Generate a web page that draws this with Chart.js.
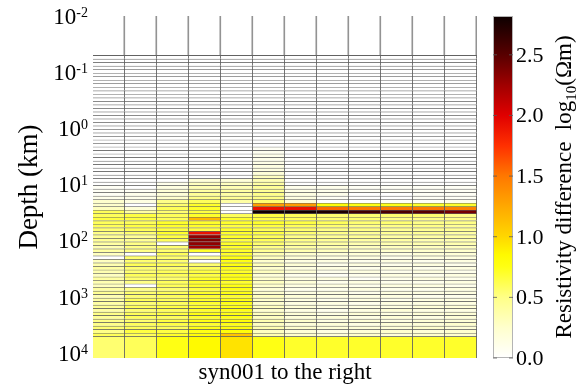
<!DOCTYPE html>
<html><head><meta charset="utf-8">
<script src="https://cdn.jsdelivr.net/npm/chart.js@4.4.1/dist/chart.umd.min.js"></script>
<style>html,body{margin:0;padding:0;background:#fff;overflow:hidden}#wrap{width:581px;height:389px;position:relative}</style>
</head><body><div id="wrap"><canvas id="c" width="581" height="389"></canvas></div>
<script>
// ---- data ----
const columns = ['1','2','3','4','5','6','7','8','9','10','11','12'];
const airTopKm = 0.01;
// layer boundaries, log10(depth km); last entry = bottom of half-space
const layerEdgesLog10 = [
-1.300,-1.238,-1.175,-1.113,-1.050,-0.988,-0.925,-0.863,-0.800,-0.738,
-0.675,-0.613,-0.550,-0.488,-0.425,-0.363,-0.300,-0.238,-0.175,-0.113,
-0.050,0.013,0.075,0.138,0.200,0.263,0.325,0.388,0.450,0.513,
0.575,0.638,0.700,0.763,0.825,0.888,0.950,1.013,1.075,1.138,
1.200,1.263,1.325,1.388,1.450,1.513,1.575,1.638,1.700,1.763,
1.825,1.888,1.950,2.013,2.075,2.138,2.200,2.263,2.325,2.388,
2.450,2.513,2.575,2.638,2.700,2.763,2.825,2.888,2.950,3.013,
3.075,3.138,3.200,3.263,3.325,3.388,3.450,3.513,3.575,3.638,
3.700,4.085];
const yTickExponents = [-2,-1,0,1,2,3,4];
const colorbarTicks = [0.0,0.5,1.0,1.5,2.0,2.5];
const colorbarMax = 2.82;

const col01 = [0,0,0,0,0,0,0,0,0,0, 0,0,0,0,0,0,0,0,0,0, 0,0,0,0,0,0,0,0,0,0,
0,0,0,0,0,0,0,0.05,0.05,0.05, 0.1,0.25,0.25,0.3,0.6,0.6,0.65,0.6,0.6,0.55,
0.5,0.45,0.45,0.4,0.35,0.4,0.3,0,0.3,0.35, 0.4,0.35,0.3,0.4,0.35,0.3,0.4,0.45,0.35,0.4,
0.4,0.45,0.4,0.5,0.45,0.5,0.5,0.55,0.5,0.6, 0.55];
const col02 = [0,0,0,0,0,0,0,0,0,0, 0,0,0,0,0,0,0,0,0,0, 0,0,0,0,0,0,0,0,0,0,
0,0,0,0,0,0,0,0,0.05,0.1, 0.1,0.15,0,0.2,0.4,0.65,0.65,0.6,0.65,0.6,
0.55,0.45,0.45,0.5,0.5,0.5,0,0.55,0.55,0.6, 0.55,0.55,0.6,0.55,0.5,0,0.5,0.55,0.55,0.6,
0.55,0.6,0.55,0.6,0.6,0.55,0.6,0.6,0.65,0.6, 0.6];
const col03 = [0,0,0,0,0,0,0,0,0,0, 0,0,0,0,0,0,0,0,0,0, 0,0,0,0,0,0,0,0,0,0,
0,0,0,0,0,0,0.1,0.15,0.2,0.2, 0.25,0.5,0.55,0.6,0.55,0.6,0.6,0.7,0.7,0.65,
0.7,0.65,0.6,0,0.55,0.55,0.6,0.55,0.55,0.6, 0.55,0.6,0.6,0.55,0.6,0.6,0.55,0.6,0.6,0.6,
0.6,0.65,0.6,0.65,0.6,0.65,0.65,0.6,0.65,0.7, 0.75];
const col04 = [0,0,0,0,0,0,0,0,0,0, 0,0,0,0,0,0,0,0,0,0, 0,0,0,0,0,0,0,0,0,0,
0,0,0,0,0,0.2,0.3,0.35,0.4,0.45, 0.5,0.6,0.7,0.7,0.65,0.7,1.15,0.7,0.7,0.65,
1.9,2.3,2.35,2.3,2.25,0.7,0,0.45,0,0.55, 0.6,0.65,0.65,0.7,0.7,0.7,0.65,0.7,0.7,0.7,
0.7,0.7,0.7,0.75,0.7,0.75,0.7,0.75,0.75,0.8, 0.85];
const col05 = [0,0,0,0,0,0,0,0,0,0, 0,0,0,0,0,0,0,0,0,0, 0,0,0,0,0,0,0,0,0,0,
0,0,0,0,0,0.2,0.3,0.35,0.4,0.4, 0.45,0.4,0,0,0,0.6,0.7,0.7,0.65,0.7,
0.7,0.7,0.65,0.7,0.7,0.7,0.7,0.75,0.75,0.75, 0.75,0.7,0.75,0.75,0.7,0.75,0.75,0.75,0.7,0.75,
0.75,0.75,0.75,0.75,0.75,0.8,0.75,0.8,0.8,1.1, 0.95];
const col06 = [0,0,0,0,0,0,0,0,0,0, 0,0,0,0,0,0,0,0,0,0, 0,0,0,0,0,0,0.05,0.08,0.1,0.1,
0.12,0.15,0.15,0.2,0.3,0.35,0.4,0.45,0.45,0.5, 0.5,0.55,1.3,1.9,2.8,0.65,0.65,0.7,0.65,0.6,
0.65,0.6,0.6,0.55,0.5,0.45,0.35,0.3,0.25,0.3, 0.25,0.3,0.2,0.25,0.3,0.25,0.2,0.25,0.3,0.25,
0.25,0.3,0.25,0.3,0.3,0.35,0.3,0.35,0.3,0.35, 0.75];
const col07 = [0,0,0,0,0,0,0,0,0,0, 0,0,0,0,0,0,0,0,0,0, 0,0,0,0,0,0,0,0,0,0,
0,0,0,0,0,0,0,0.1,0.12,0.15, 0.15,0.2,1.3,1.9,2.8,0.6,0.6,0.65,0.6,0.55,
0.55,0.5,0.5,0.45,0.4,0.35,0.25,0.2,0.15,0.2, 0.15,0.2,0.1,0.15,0.2,0.15,0.1,0.15,0.2,0.15,
0.15,0.2,0.15,0.2,0.2,0.25,0.2,0.25,0.2,0.25, 0.7];
const col08 = [0,0,0,0,0,0,0,0,0,0, 0,0,0,0,0,0,0,0,0,0, 0,0,0,0,0,0,0,0,0,0,
0,0,0,0,0,0,0,0.1,0.1,0.1, 0.05,0,0.8,1.55,2.75,0.55,0.55,0.6,0.55,0.5,
0.5,0.45,0.45,0.4,0.35,0.3,0.2,0.15,0.15,0.1, 0.15,0.1,0.05,0.15,0.1,0.15,0.1,0.15,0.15,0.1,
0.15,0.15,0.1,0.15,0.2,0.15,0.2,0.2,0.15,0.2, 0.7];
const col09 = [0,0,0,0,0,0,0,0,0,0, 0,0,0,0,0,0,0,0,0,0, 0,0,0,0,0,0,0,0,0,0,
0,0,0,0,0,0,0,0.05,0.05,0, 0,0,0.75,1.5,2.6,0.55,0.55,0.55,0.5,0.5,
0.45,0.45,0.4,0.35,0.3,0.25,0.2,0.15,0.1,0.15, 0.1,0.15,0.1,0.05,0.15,0.1,0.15,0.1,0.15,0.15,
0.1,0.15,0.15,0.2,0.15,0.2,0.15,0.2,0.2,0.25, 0.7];
const col10 = [0,0,0,0,0,0,0,0,0,0, 0,0,0,0,0,0,0,0,0,0, 0,0,0,0,0,0,0,0,0,0,
0,0,0,0,0,0,0,0.05,0.05,0, 0,0.05,0.75,1.5,2.55,0.55,0.5,0.55,0.5,0.45,
0.45,0.4,0.4,0.35,0.3,0.25,0.15,0.1,0.15,0.1, 0.15,0.1,0.15,0.1,0.1,0.15,0.1,0.15,0.15,0.1,
0.15,0.15,0.2,0.15,0.2,0.15,0.2,0.2,0.25,0.2, 0.7];
const col11 = [0,0,0,0,0,0,0,0,0,0, 0,0,0,0,0,0,0,0,0,0, 0,0,0,0,0,0,0,0,0,0,
0,0,0,0,0,0,0,0.05,0.05,0.05, 0.05,0.05,0.7,1.5,2.5,0.55,0.5,0.5,0.5,0.45,
0.45,0.4,0.35,0.35,0.3,0.25,0.2,0.15,0.1,0.15, 0.1,0.15,0.1,0.15,0.1,0.15,0.1,0.15,0.1,0.15,
0.15,0.2,0.15,0.2,0.15,0.2,0.2,0.25,0.2,0.25, 0.7];
const col12 = [0,0,0,0,0,0,0,0,0,0, 0,0,0,0,0,0,0,0,0,0, 0,0,0,0,0,0,0,0,0,0,
0,0,0,0,0,0,0,0.05,0.05,0.05, 0.05,0.1,0.7,1.45,2.4,0.5,0.5,0.5,0.45,0.45,
0.4,0.4,0.35,0.35,0.3,0.25,0.2,0.15,0.15,0.1, 0.15,0.1,0.15,0.1,0.15,0.1,0.15,0.15,0.1,0.15,
0.15,0.2,0.15,0.2,0.2,0.2,0.25,0.2,0.25,0.25, 0.7];
const valueColumns = [col01,col02,col03,col04,col05,col06,col07,col08,col09,col10,col11,col12];

// ---- styling ----
const FONT = "'Liberation Serif','Times New Roman',serif";
const gridColor = 'rgba(70,70,70,0.85)';
const airGridColor = 'rgba(120,120,120,0.8)';
const cmapStops = [
  [0.00,[255,255,255]],[0.25,[255,255,205]],[0.50,[255,255,135]],[0.75,[255,255,20]],
  [0.85,[255,250,0]],[1.00,[255,215,0]],[1.25,[255,168,0]],[1.50,[255,120,0]],
  [1.75,[255,48,0]],[2.00,[224,0,0]],[2.25,[160,0,0]],[2.50,[88,0,0]],[2.82,[12,0,0]]];
function cmap(v){
  if (v <= cmapStops[0][0]) return 'rgb(255,255,255)';
  for (let k=1;k<cmapStops.length;k++){
    const [v1,c1]=cmapStops[k], [v0,c0]=cmapStops[k-1];
    if (v <= v1){
      const t=(v-v0)/(v1-v0);
      const c=c0.map((a,i)=>Math.round(a+(c1[i]-a)*t));
      return `rgb(${c[0]},${c[1]},${c[2]})`;
    }
  }
  const c=cmapStops[cmapStops.length-1][1];
  return `rgb(${c[0]},${c[1]},${c[2]})`;
}

const datasets = [];
// air / above-mesh cells (only their column edges are drawn)
datasets.push({
  data: columns.map(()=>[airTopKm, Math.pow(10, layerEdgesLog10[0])]),
  backgroundColor: 'rgba(0,0,0,0)', borderColor: airGridColor,
  borderWidth: {top:0,right:1.2,bottom:0,left:0}, borderSkipped:false,
  grouped:false, barPercentage:1, categoryPercentage:1
});
const nLayers = layerEdgesLog10.length - 1;
for (let i=0;i<nLayers;i++){
  datasets.push({
    data: columns.map(()=>[Math.pow(10,layerEdgesLog10[i]), Math.pow(10,layerEdgesLog10[i+1])]),
    backgroundColor: valueColumns.map(col=>cmap(col[i] ?? 0)),
    borderColor: gridColor,
    borderWidth: {top:1,right:1.2,bottom:0,left:0}, borderSkipped:false,
    grouped:false, barPercentage:1, categoryPercentage:1
  });
}

const textPlugin = {
  id:'texts',
  afterDraw(chart){
    const ctx = chart.ctx, y = chart.scales.y, cb = chart.scales.cb, area = chart.chartArea;
    ctx.save();
    ctx.fillStyle = '#000';
    // y tick labels 10^n
    for (const e of yTickExponents){
      const py = y.getPixelForValue(Math.pow(10,e));
      ctx.font = `14px ${FONT}`;
      const es = (e<0?'-':'') + Math.abs(e);
      const ew = ctx.measureText(es).width;
      ctx.font = `23px ${FONT}`;
      const bw = ctx.measureText('10').width;
      const right = 88;
      ctx.textBaseline = 'alphabetic'; ctx.textAlign = 'left';
      ctx.fillText('10', right - ew - bw, py + 7.5);
      ctx.font = `14px ${FONT}`;
      ctx.fillText(es, right - ew, py + 0.5);
    }
    // y axis title
    ctx.save();
    ctx.translate(37, (area.top+area.bottom)/2);
    ctx.rotate(-Math.PI/2);
    ctx.font = `27px ${FONT}`; ctx.textAlign='center'; ctx.textBaseline='alphabetic';
    ctx.fillText('Depth (km)', 0, 0);
    ctx.restore();
    // x axis title
    ctx.font = `23px ${FONT}`; ctx.textAlign='center'; ctx.textBaseline='alphabetic';
    ctx.fillText('syn001 to the right', (area.left+area.right)/2, 379);
    // colorbar
    const cx0 = 493, cx1 = 513;
    const yb = cb.getPixelForValue(0), yt = cb.getPixelForValue(colorbarMax);
    const g = ctx.createLinearGradient(0, yb, 0, yt);
    for (const [v,c] of cmapStops) g.addColorStop(Math.min(1, v/colorbarMax), `rgb(${c[0]},${c[1]},${c[2]})`);
    ctx.fillStyle = g;
    ctx.fillRect(cx0, yt, cx1-cx0, yb-yt);
    ctx.strokeStyle = '#b4b4b4'; ctx.lineWidth = 1;
    ctx.strokeRect(cx0+0.5, yt+0.5, cx1-cx0-1, yb-yt-1);
    ctx.font = `22px ${FONT}`; ctx.textAlign='left'; ctx.textBaseline='middle'; ctx.fillStyle='#000';
    ctx.strokeStyle = 'rgba(90,90,90,0.8)';
    for (const t of colorbarTicks){
      const py = cb.getPixelForValue(t);
      ctx.beginPath();
      ctx.moveTo(cx0, py); ctx.lineTo(cx0+4, py);
      ctx.moveTo(cx1-4, py); ctx.lineTo(cx1, py);
      ctx.stroke();
      ctx.fillText(t.toFixed(1), 516, py+1);
    }
    // colorbar title
    ctx.save();
    ctx.translate(571, (area.top+area.bottom)/2);
    ctx.rotate(-Math.PI/2);
    ctx.textBaseline='alphabetic'; ctx.textAlign='left';
    const big = `23px ${FONT}`, small = `15px ${FONT}`;
    const p1 = 'Resistivity difference  log', p2 = '10', p3 = '(\u03A9m)';
    ctx.font = big; const w1 = ctx.measureText(p1).width, w3 = ctx.measureText(p3).width;
    ctx.font = small; const w2 = ctx.measureText(p2).width;
    let x = -(w1+w2+w3)/2;
    ctx.font = big; ctx.fillText(p1, x, 0); x += w1;
    ctx.font = small; ctx.fillText(p2, x, 5); x += w2;
    ctx.font = big; ctx.fillText(p3, x, 0);
    ctx.restore();
    ctx.restore();
  }
};

new Chart(document.getElementById('c'), {
  type:'bar',
  data:{ labels: columns, datasets },
  options:{
    responsive:false, animation:false, devicePixelRatio:1,
    layout:{ padding:{ left:93, right:104, top:16, bottom:31 } },
    plugins:{ legend:{display:false}, tooltip:{enabled:false} },
    scales:{
      x:{ type:'category', display:false, offset:true },
      y:{ type:'logarithmic', display:false, reverse:true, min:airTopKm, max:Math.pow(10, layerEdgesLog10[layerEdgesLog10.length-1]) },
      cb:{ type:'linear', display:false, position:'right', min:0, max:colorbarMax }
    }
  },
  plugins:[textPlugin]
});
</script></body></html>
